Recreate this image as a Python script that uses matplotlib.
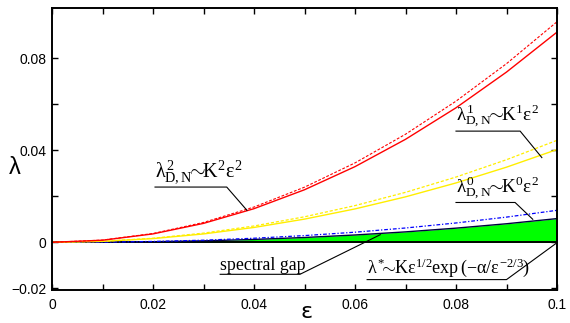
import numpy as np
import matplotlib
matplotlib.use("Agg")
import matplotlib.pyplot as plt

plt.rcParams['mathtext.fontset'] = 'custom'
plt.rcParams['mathtext.rm'] = 'Liberation Serif'
plt.rcParams['mathtext.it'] = 'Liberation Serif'
plt.rcParams['mathtext.bf'] = 'Liberation Serif:bold'

# epsilon grid and eigenvalue branches
eps = [0.0, 0.01, 0.02, 0.03, 0.04, 0.05, 0.06, 0.07, 0.08, 0.09, 0.10]
lam2 = [0, 0.00091, 0.00365, 0.00822, 0.01461, 0.02283, 0.03287, 0.04474, 0.05843, 0.07395, 0.0913]
lam2_asym = [0, 0.00096, 0.00383, 0.00862, 0.01533, 0.02395, 0.03449, 0.04694, 0.06131, 0.07760, 0.0958]
lam1 = [0, 0.00040, 0.00161, 0.00363, 0.00645, 0.01008, 0.01451, 0.01975, 0.02579, 0.03264, 0.0403]
lam1_asym = [0, 0.00044, 0.00177, 0.00399, 0.00709, 0.01108, 0.01595, 0.02171, 0.02835, 0.03588, 0.0443]
lam0_asym = [0, 0.00008, 0.00037, 0.00092, 0.00177, 0.00292, 0.00439, 0.00622, 0.00840, 0.01095, 0.0139]
lam0 = [0, 0.00005, 0.00025, 0.00064, 0.00125, 0.00209, 0.00318, 0.00453, 0.00615, 0.00806, 0.0103]
lam_star = [0, 0, 0, 0, 0, 0, 0, 0, 0, 0, 0]

xticks = [0, 0.01, 0.02, 0.03, 0.04, 0.05, 0.06, 0.07, 0.08, 0.09, 0.1]
xticklabels = ['0', '', '0.02', '', '0.04', '', '0.06', '', '0.08', '', '0.1']
yticks = [-0.02, 0, 0.02, 0.04, 0.06, 0.08]
yticklabels = ['\u22120.02', '0', '', '0.04', '', '0.08']

fig = plt.figure(figsize=(5.7, 3.23), dpi=100)
ax = fig.add_axes([52/570, 1-289.5/323, 505/570, 282/323])

ax.fill_between(eps, lam_star, lam0, color='#00ff00', lw=0)
ax.plot(eps, lam_star, color='#006400', lw=1.2)
ax.axhline(0, color='k', lw=1.3)
ax.plot(eps, lam0, color='#000040', lw=1.0)
ax.plot(eps, lam0_asym, color='blue', lw=0.9, ls=(0, (3, 1.5, 1, 1.5)))
ax.plot(eps, lam1, color='#ffee00', lw=1.0)
ax.plot(eps, lam1_asym, color='#ffee00', lw=0.9, ls=(0, (2.5, 1.5)))
ax.plot(eps, lam2, color='red', lw=1.0)
ax.plot(eps, lam2_asym, color='red', lw=0.8, ls=(0, (2.5, 1.5)))

ax.set_xlim(0, 0.1)
ax.set_ylim(-0.0205, 0.102)
ax.set_xticks(xticks)
ax.set_xticklabels(xticklabels)
ax.set_yticks(yticks)
ax.set_yticklabels(yticklabels)
ax.tick_params(direction='in', length=4, width=1, top=True, right=True,
               labelsize=10, pad=4)
ax.tick_params(axis='x', pad=6)
for lab in ax.get_xticklabels() + ax.get_yticklabels():
    lab.set_family('Liberation Sans')
for s in ax.spines.values():
    s.set_linewidth(1.4)

# axis symbols placed in figure pixels like the reference
fig.text(307/570, 1-312/323, '\u03b5', fontsize=16, family='DejaVu Sans',
         ha='center', va='center')
fig.text(15/570, 1-168/323, '\u03bb', fontsize=17, family='Liberation Sans',
         ha='center', va='center')

SIM = r'\!\!\sim\!\!'


def label(txt, x0, x1, y, tip, size=14.5):
    ax.text(x0, y + 0.0003, txt, fontsize=size, ha='left', va='bottom')
    ax.plot([x0, x1, tip[0]], [y, y, tip[1]], color='k', lw=0.8,
            clip_on=False)


label(r'$\lambda^{2}_{\mathrm{D,N}}' + SIM + r'\mathrm{K}^{2}\varepsilon^{2}$',
      0.0204, 0.0346, 0.0240, (0.0386, 0.0139))
label(r'$\lambda^{1}_{\mathrm{D,N}}' + SIM + r'\mathrm{K}^{1}\varepsilon^{2}$',
      0.0800, 0.0927, 0.0483, (0.0970, 0.0368), size=13.8)
label(r'$\lambda^{0}_{\mathrm{D,N}}' + SIM + r'\mathrm{K}^{0}\varepsilon^{2}$',
      0.0800, 0.0917, 0.0173, (0.0952, 0.0100), size=13.8)
label('spectral gap', 0.0333, 0.0491, -0.0139, (0.0650, 0.0033), size=12.8)
ax.texts[-1].set_family('Liberation Serif')
label(r'$\lambda^{*}' + SIM + r'\mathrm{K}\varepsilon^{1/2}\mathrm{exp}\,(-\alpha/\varepsilon^{-2/3})$',
      0.0624, 0.0900, -0.0162, (0.0998, -0.0005), size=13)

fig.savefig('out.png', dpi=100)
